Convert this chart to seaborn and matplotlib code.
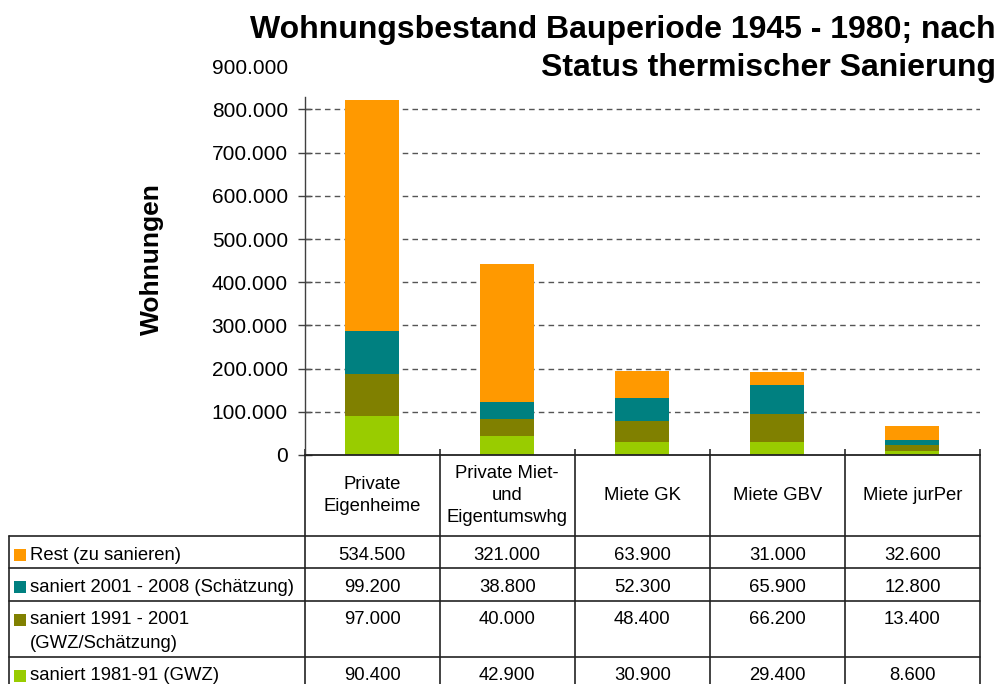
import numpy as np
import matplotlib
matplotlib.use("Agg")
import matplotlib.pyplot as plt
import matplotlib.transforms as mtransforms
from matplotlib.lines import Line2D
from matplotlib.patches import Rectangle
import seaborn as sns

# Daten
categories = ["Private\nEigenheime", "Private Miet-\nund\nEigentumswhg",
              "Miete GK", "Miete GBV", "Miete jurPer"]
series_names = ["Rest (zu sanieren)", "saniert 2001 - 2008 (Schätzung)",
                "saniert 1991 - 2001\n(GWZ/Schätzung)", "saniert 1981-91 (GWZ)"]
rest = [534500, 321000, 63900, 31000, 32600]
saniert_2001_2008 = [99200, 38800, 52300, 65900, 12800]
saniert_1991_2001 = [97000, 40000, 48400, 66200, 13400]
saniert_1981_1991 = [90400, 42900, 30900, 29400, 8600]
series_colors = ["#FF9900", "#008080", "#808000", "#99CC00"]
y_ticks = [0, 100000, 200000, 300000, 400000, 500000, 600000, 700000, 800000, 900000]

title_lines = ["Wohnungsbestand Bauperiode 1945 - 1980; nach",
               "Status thermischer Sanierung"]


def fmt_de(v):
    return f"{v:,.0f}".replace(",", ".")


sns.set_theme(style="white")
plt.rcParams['font.family'] = ['Liberation Sans', 'DejaVu Sans']
plt.rcParams['text.color'] = 'black'
plt.rcParams['axes.labelcolor'] = 'black'
plt.rcParams['ytick.color'] = 'black'

W, H = 1002, 684
fig = plt.figure(figsize=(W / 100, H / 100), dpi=100)
fig.patch.set_facecolor("white")

# Achse: 0 bei y=455px, 100.000 = 43.2px
ax_left, ax_right, ax_zero = 304.5, 980, 455
ax_h = 9 * 43.2
ax = fig.add_axes([ax_left / W, 1 - ax_zero / H, (ax_right - ax_left) / W, ax_h / H])

# gestapelte Balken: kumulierte Summen, oberste zuerst zeichnen
table_rows = [rest, saniert_2001_2008, saniert_1991_2001, saniert_1981_1991]
stack = np.array(table_rows[::-1])
stack_colors = series_colors[::-1]
cum = np.cumsum(stack, axis=0)
for i in reversed(range(len(stack))):
    sns.barplot(x=categories, y=cum[i], color=stack_colors[i], width=0.4,
                saturation=1, linewidth=0, ax=ax, zorder=2)

ax.set_xlim(-0.5, len(categories) - 0.5)
ax.set_ylim(0, 900000)
ax.set_xlabel("")
ax.set_ylabel("")

# Gitterlinien
ax.hlines(y_ticks[1:-1], -0.5, len(categories) - 0.5, colors="#555555",
          linestyles=(0, (4, 3)), linewidth=1, zorder=1)

ax.set_yticks(y_ticks)
ax.set_yticklabels([fmt_de(v) for v in y_ticks])
ax.tick_params(axis="y", labelsize=15, direction="inout", length=10, width=1,
               color="#404040", pad=7, labelcolor="black", left=True)
ax.yaxis.get_major_ticks()[-1].tick1line.set_visible(False)
ax.set_xticks(np.arange(-0.5, len(categories), 1))
ax.set_xticklabels([])
ax.tick_params(axis="x", direction="in", length=4, color="#333333", bottom=True)

for s in ["top", "right"]:
    ax.spines[s].set_visible(False)
ax.spines["left"].set_color("#404040")
ax.spines["left"].set_linewidth(1)
ax.spines["left"].set_bounds(0, 829000)
ax.spines["bottom"].set_color("#222222")
ax.spines["bottom"].set_linewidth(1.3)

# Titel und Achsentitel
for line, yp in zip(title_lines, [30, 68]):
    fig.text(996 / W, 1 - yp / H, line, ha="right", va="center",
             fontsize=23, fontweight="bold")
fig.text(152 / W, 1 - 259 / H, "Wohnungen", rotation=90, ha="center", va="center",
         fontsize=19, fontweight="bold")

# Datentabelle unter der Achse (x in Datenkoordinaten, y in Figurkoordinaten)
trans = mtransforms.blended_transform_factory(ax.transData, fig.transFigure)
px_per_unit = (ax_right - ax_left) / len(categories)
x_tab_left = -0.5 - (ax_left - 9) / px_per_unit
row_edges = [455, 536, 568, 601, 657, 692]
line_kw = dict(color="#222222", linewidth=1.2, transform=trans, clip_on=False)

for y in row_edges[1:]:
    fig.add_artist(Line2D([x_tab_left, len(categories) - 0.5], [1 - y / H] * 2, **line_kw))
for xb in np.arange(-0.5, len(categories), 1):
    fig.add_artist(Line2D([xb, xb], [1 - row_edges[0] / H, 1 - row_edges[-1] / H], **line_kw))
fig.add_artist(Line2D([x_tab_left, x_tab_left], [1 - row_edges[1] / H, 1 - row_edges[-1] / H],
                      **line_kw))

# Kopfzeile
head_y = 1 - (row_edges[0] + row_edges[1]) / 2 / H
for i, cat in enumerate(categories):
    fig.text(i, head_y, cat, transform=trans, ha="center", va="center",
             fontsize=13.3, linespacing=1.42)

# Datenzeilen
sq_x = x_tab_left + 5 / px_per_unit
sq_w = 12 / px_per_unit
txt_x = x_tab_left + 21 / px_per_unit
for r, (name, vals, col) in enumerate(zip(series_names, table_rows, series_colors)):
    top = row_edges[r + 1]
    yc = top + 19
    fig.add_artist(Rectangle((sq_x, 1 - (yc + 6) / H), sq_w, 12 / H, facecolor=col,
                             edgecolor="none", transform=trans, clip_on=False))
    for k, line in enumerate(name.split("\n")):
        fig.text(txt_x, 1 - (yc + 23 * k) / H, line, transform=trans, ha="left",
                 va="center", fontsize=13.3)
    for i, v in enumerate(vals):
        fig.text(i, 1 - yc / H, fmt_de(v), transform=trans, ha="center", va="center",
                 fontsize=13.3)

fig.savefig("out.png", dpi=100, facecolor="white")
